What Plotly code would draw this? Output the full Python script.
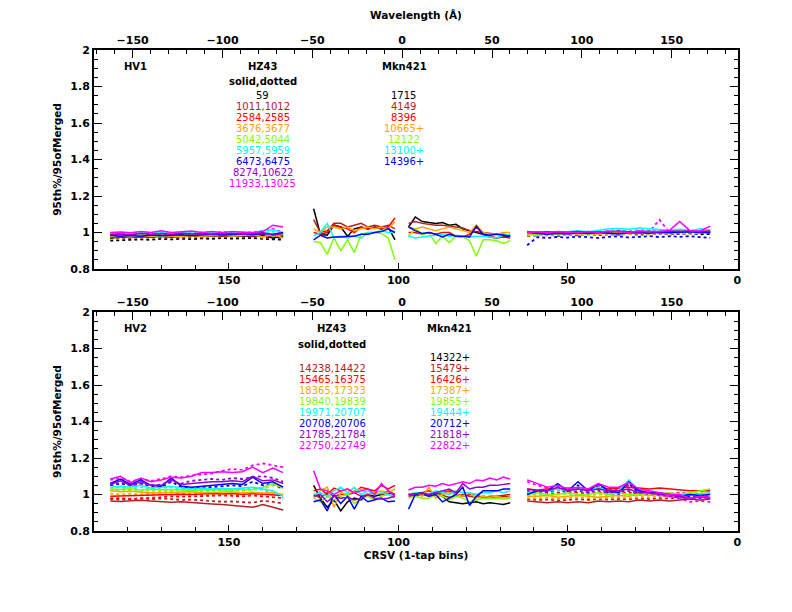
import plotly.graph_objects as go

# CRSV bin positions of the four detector segments
s1_bins = [185, 182, 179, 176, 173, 170, 167, 164, 161, 158, 155, 152, 149, 146, 143, 140, 137, 134]
s2_bins = [125, 123, 121, 119, 117, 115, 113, 111, 109, 107, 105, 103, 101]
s3_bins = [97, 95, 93, 91, 89, 87, 85, 83, 81, 79, 77, 75, 73, 71, 69, 67]
s4_bins = [62, 59, 56, 53, 50, 47, 44, 41, 38, 35, 32, 29, 26, 23, 20, 17, 14, 11, 8]

# black, brown, red, orange, green, cyan, blue, purple, magenta
colors = ['#000000', '#b22222', '#ff0000', '#ffa500', '#7fff00', '#00ffff', '#0000ff', '#9400d3', '#ff00ff']

# ---- top panel (HV1) ----
# HZ43, segment 1 : rows black..magenta
top_s1_solid = [
    [0.97, 0.975, 0.972, 0.978, 0.975, 0.98, 0.976, 0.978, 0.982, 0.978, 0.98, 0.984, 0.98, 0.982, 0.978, 0.985, 0.97, 0.98],
    [0.975, 0.978, 0.98, 0.976, 0.98, 0.982, 0.978, 0.984, 0.98, 0.982, 0.985, 0.98, 0.984, 0.986, 0.98, 0.99, 0.975, 0.985],
    [0.98, 0.982, 0.985, 0.98, 0.986, 0.983, 0.988, 0.984, 0.986, 0.99, 0.985, 0.988, 0.99, 0.986, 0.99, 0.995, 0.98, 0.99],
    [0.978, 0.98, 0.976, 0.982, 0.98, 0.984, 0.98, 0.978, 0.984, 0.98, 0.982, 0.986, 0.98, 0.984, 0.988, 0.975, 0.99, 0.97],
    [0.982, 0.985, 0.98, 0.988, 0.984, 0.98, 0.986, 0.99, 0.984, 0.988, 0.985, 0.99, 0.986, 0.99, 0.985, 1.0, 0.98, 0.99],
    [0.995, 1.0, 0.996, 1.002, 0.998, 1.0, 0.995, 1.0, 1.004, 0.998, 1.0, 0.996, 1.0, 1.004, 0.998, 1.01, 1.015, 1.0],
    [0.985, 0.98, 0.984, 0.98, 0.986, 0.982, 0.985, 0.988, 0.984, 0.986, 0.99, 0.986, 0.988, 0.992, 0.988, 0.995, 0.99, 1.0],
    [0.99, 0.992, 0.988, 0.995, 0.99, 0.994, 0.99, 0.996, 0.992, 0.995, 0.99, 0.996, 0.994, 0.99, 0.995, 1.0, 0.985, 0.995],
    [1.0, 1.003, 0.998, 1.005, 1.0, 1.01, 1.0, 1.004, 1.008, 1.0, 1.005, 1.0, 1.006, 1.002, 1.0, 1.005, 1.04, 1.03],
]
top_s1_dotted = [
    [0.955, 0.958, 0.96, 0.962, 0.96, 0.965, 0.962, 0.966, 0.963, 0.968, 0.965, 0.97, 0.966, 0.968, 0.97, 0.965, 0.962, 0.96],
    [0.968, 0.97, 0.972, 0.97, 0.974, 0.972, 0.975, 0.972, 0.976, 0.974, 0.978, 0.975, 0.978, 0.976, 0.98, 0.975, 0.97, 0.972],
    [0.972, 0.975, 0.974, 0.978, 0.976, 0.98, 0.976, 0.98, 0.978, 0.982, 0.98, 0.982, 0.985, 0.98, 0.984, 0.98, 0.975, 0.978],
    [0.97, 0.972, 0.975, 0.972, 0.976, 0.978, 0.975, 0.978, 0.98, 0.976, 0.98, 0.978, 0.982, 0.98, 0.984, 0.97, 0.985, 0.968],
    [0.976, 0.978, 0.98, 0.978, 0.982, 0.98, 0.984, 0.982, 0.986, 0.984, 0.986, 0.988, 0.985, 0.988, 0.99, 0.995, 0.975, 0.98],
    [0.985, 0.988, 0.99, 0.986, 0.99, 0.992, 0.99, 0.994, 0.99, 0.992, 0.995, 0.99, 0.994, 0.996, 0.992, 1.0, 1.005, 0.99],
    [0.975, 0.978, 0.976, 0.98, 0.978, 0.982, 0.98, 0.984, 0.98, 0.984, 0.982, 0.986, 0.984, 0.986, 0.99, 0.98, 0.97, 0.975],
    [0.98, 0.984, 0.982, 0.986, 0.984, 0.988, 0.985, 0.99, 0.986, 0.99, 0.988, 0.992, 0.99, 0.988, 0.992, 0.995, 0.98, 0.985],
    [0.99, 0.994, 0.992, 0.996, 0.994, 0.998, 0.995, 1.0, 0.996, 1.0, 0.998, 1.002, 1.0, 0.998, 1.0, 1.01, 1.02, 1.0],
]
# Mkn421, segments 2 and 3 : rows black..blue
top_s2 = [
    [1.13, 0.99, 0.985, 1.04, 1.03, 0.98, 1.02, 1.03, 1.02, 1.03, 1.02, 1.03, 0.96],
    [1.07, 1.0, 1.01, 1.05, 1.05, 1.03, 1.04, 1.05, 1.03, 1.04, 1.03, 1.04, 1.02],
    [1.0, 0.99, 1.0, 1.04, 1.03, 1.02, 1.0, 1.03, 1.02, 1.03, 1.02, 1.03, 1.08],
    [1.02, 1.0, 1.03, 1.03, 1.02, 1.03, 1.01, 1.02, 1.03, 1.02, 1.03, 1.02, 1.06],
    [0.95, 0.945, 0.88, 0.97, 0.90, 0.96, 0.89, 0.99, 1.0, 1.0, 0.995, 0.97, 0.85],
    [0.98, 1.0, 1.05, 0.97, 0.98, 0.97, 0.98, 0.97, 1.0, 1.0, 1.01, 1.0, 1.0],
    [0.96, 0.985, 0.97, 0.975, 0.975, 0.98, 0.98, 0.99, 0.99, 1.0, 1.005, 1.02, 1.0],
]
top_s3 = [
    [1.03, 1.085, 1.06, 1.055, 1.05, 1.055, 1.04, 1.045, 1.02, 1.01, 1.0, 0.99, 0.975, 0.97, 0.98, 0.98],
    [1.05, 1.06, 1.05, 1.045, 1.04, 1.04, 1.035, 1.03, 1.025, 1.01, 1.005, 1.0, 0.995, 0.99, 0.99, 0.985],
    [1.0, 1.0, 0.99, 1.0, 0.99, 1.0, 1.0, 0.98, 0.975, 0.99, 1.03, 0.99, 0.98, 0.97, 0.975, 0.97],
    [1.03, 1.02, 1.03, 1.02, 1.01, 1.02, 1.03, 1.02, 1.01, 1.0, 1.04, 1.0, 0.99, 0.99, 1.0, 1.0],
    [0.98, 1.02, 0.99, 1.0, 0.94, 0.98, 0.945, 0.98, 0.975, 0.955, 0.87, 0.96, 0.96, 0.955, 0.94, 0.955],
    [0.98, 0.97, 0.975, 0.98, 0.985, 0.99, 0.98, 0.985, 0.98, 0.975, 0.98, 0.98, 0.975, 0.97, 0.985, 0.99],
    [1.03, 1.01, 0.995, 1.0, 0.99, 0.975, 0.99, 0.98, 0.98, 0.975, 1.035, 0.99, 0.985, 0.99, 0.985, 0.98],
]
# HZ43, segment 4 : rows black..magenta
top_s4_solid = [
    [0.99, 0.995, 1.0, 0.99, 1.0, 0.995, 1.0, 1.002, 0.995, 1.0, 1.004, 0.996, 1.005, 1.0, 1.002, 1.0, 1.005, 1.0, 1.002],
    [0.995, 1.0, 0.996, 1.002, 0.998, 1.0, 1.004, 0.998, 1.002, 1.0, 0.998, 1.004, 1.0, 1.005, 1.0, 1.004, 1.0, 1.006, 1.0],
    [1.0, 0.995, 1.002, 0.998, 1.004, 1.0, 0.996, 1.002, 1.0, 1.005, 1.0, 1.002, 1.006, 1.0, 1.004, 1.008, 1.0, 1.005, 1.01],
    [0.99, 0.985, 0.995, 0.99, 0.996, 0.992, 0.995, 0.99, 0.998, 0.995, 1.0, 0.996, 1.0, 0.998, 1.002, 1.0, 1.004, 1.0, 1.005],
    [0.995, 0.99, 0.998, 0.992, 1.0, 0.996, 0.99, 0.998, 1.0, 0.995, 1.0, 1.002, 0.998, 1.004, 1.0, 1.005, 1.002, 1.0, 1.01],
    [1.0, 1.002, 1.005, 1.0, 1.006, 1.01, 1.004, 1.012, 1.02, 1.022, 1.018, 1.025, 1.02, 1.015, 1.012, 1.018, 1.01, 1.02, 1.015],
    [1.0, 0.995, 0.99, 0.996, 0.992, 0.998, 0.994, 1.0, 0.996, 0.992, 0.998, 1.0, 0.996, 1.002, 0.998, 1.0, 1.004, 1.0, 1.0],
    [1.005, 1.0, 1.004, 0.998, 1.002, 1.006, 1.0, 1.004, 1.002, 1.008, 1.004, 1.0, 1.006, 1.004, 1.008, 1.005, 1.01, 1.004, 1.008],
    [1.0, 1.004, 1.0, 1.006, 1.002, 1.0, 1.005, 1.002, 1.008, 1.004, 1.0, 1.01, 1.005, 1.006, 1.012, 1.06, 1.01, 1.008, 1.035],
]
top_s4_dotted = [
    [0.98, 0.985, 0.99, 0.982, 0.988, 0.985, 0.99, 0.986, 0.99, 0.988, 0.992, 0.988, 0.99, 0.994, 0.99, 0.992, 0.995, 0.99, 0.992],
    [0.988, 0.99, 0.985, 0.992, 0.99, 0.994, 0.99, 0.992, 0.996, 0.99, 0.994, 0.998, 0.992, 0.996, 1.0, 0.995, 0.998, 1.0, 0.996],
    [0.99, 0.994, 0.99, 0.996, 0.992, 0.998, 0.995, 0.992, 0.998, 1.0, 0.996, 1.0, 0.998, 1.002, 0.998, 1.0, 1.004, 1.0, 1.002],
    [0.982, 0.986, 0.984, 0.988, 0.985, 0.99, 0.986, 0.99, 0.988, 0.992, 0.99, 0.994, 0.99, 0.995, 0.992, 0.996, 0.994, 0.998, 1.0],
    [0.99, 0.986, 0.992, 0.988, 0.994, 0.99, 0.986, 0.994, 0.996, 0.99, 0.996, 0.998, 0.994, 1.0, 0.996, 1.0, 0.998, 0.996, 1.005],
    [0.995, 0.998, 1.0, 0.996, 1.002, 1.004, 1.0, 1.006, 1.01, 1.012, 1.01, 1.015, 1.012, 1.008, 1.006, 1.01, 1.004, 1.01, 1.008],
    [0.93, 0.975, 0.97, 0.976, 0.972, 0.978, 0.974, 0.97, 0.976, 0.98, 0.972, 0.976, 0.98, 0.975, 0.98, 0.976, 0.98, 0.975, 0.97],
    [0.998, 0.995, 1.0, 0.996, 0.998, 1.002, 0.996, 1.0, 0.998, 1.004, 1.0, 0.996, 1.002, 1.0, 1.004, 1.0, 1.006, 1.0, 1.004],
    [0.995, 1.0, 0.998, 0.995, 1.0, 1.002, 0.996, 1.0, 1.002, 0.998, 1.004, 1.0, 1.002, 1.07, 1.0, 1.005, 1.0, 1.004, 1.01],
]

# ---- bottom panel (HV2) ----
# HZ43 rows brown..magenta
bot_s1_solid = [
    [0.965, 0.962, 0.966, 0.968, 0.965, 0.962, 0.958, 0.96, 0.955, 0.95, 0.948, 0.945, 0.94, 0.935, 0.93, 0.945, 0.93, 0.915],
    [0.99, 0.992, 0.995, 0.997, 0.998, 1.0, 1.0, 1.002, 1.0, 1.003, 1.005, 1.003, 1.005, 1.0, 1.005, 1.002, 1.0, 0.995],
    [1.02, 1.015, 1.018, 1.012, 1.01, 1.01, 1.012, 1.01, 1.015, 1.01, 1.012, 1.01, 1.015, 1.01, 1.012, 1.008, 1.01, 1.0],
    [1.03, 1.028, 1.032, 1.025, 1.03, 1.026, 1.028, 1.025, 1.022, 1.025, 1.028, 1.024, 1.026, 1.03, 1.028, 1.04, 1.06, 1.035],
    [1.04, 1.045, 1.04, 1.05, 1.035, 1.04, 1.045, 1.035, 1.03, 1.035, 1.03, 1.034, 1.03, 1.035, 1.04, 1.03, 1.02, 0.99],
    [1.06, 1.085, 1.055, 1.08, 1.05, 1.045, 1.09, 1.045, 1.04, 1.045, 1.05, 1.055, 1.06, 1.055, 1.095, 1.06, 1.07, 1.04],
    [1.055, 1.075, 1.05, 1.07, 1.05, 1.05, 1.08, 1.055, 1.06, 1.065, 1.07, 1.07, 1.075, 1.07, 1.1, 1.075, 1.08, 1.06],
    [1.085, 1.1, 1.065, 1.09, 1.07, 1.08, 1.095, 1.09, 1.1, 1.12, 1.12, 1.125, 1.12, 1.125, 1.15, 1.12, 1.145, 1.12],
]
bot_s1_dotted = [
    [0.975, 0.972, 0.975, 0.978, 0.975, 0.978, 0.975, 0.97, 0.972, 0.968, 0.965, 0.96, 0.962, 0.958, 0.955, 0.965, 0.96, 0.95],
    [0.978, 0.98, 0.975, 0.98, 0.982, 0.985, 0.99, 0.988, 0.99, 0.992, 0.99, 0.995, 0.993, 0.99, 0.995, 0.99, 0.985, 0.98],
    [1.005, 1.0, 1.004, 1.0, 1.005, 1.002, 1.0, 1.004, 1.006, 1.002, 1.005, 1.0, 1.004, 1.002, 1.0, 1.01, 1.005, 1.0],
    [1.025, 1.02, 1.024, 1.02, 1.022, 1.018, 1.02, 1.022, 1.018, 1.02, 1.022, 1.02, 1.024, 1.022, 1.025, 1.03, 1.05, 1.03],
    [1.035, 1.04, 1.03, 1.04, 1.03, 1.035, 1.04, 1.03, 1.028, 1.03, 1.025, 1.03, 1.028, 1.03, 1.035, 1.025, 1.01, 0.98],
    [1.05, 1.06, 1.05, 1.06, 1.045, 1.04, 1.07, 1.04, 1.035, 1.04, 1.04, 1.045, 1.05, 1.045, 1.07, 1.05, 1.06, 1.03],
    [1.05, 1.065, 1.05, 1.06, 1.05, 1.055, 1.07, 1.06, 1.075, 1.08, 1.085, 1.08, 1.09, 1.085, 1.095, 1.1, 1.09, 1.07],
    [1.08, 1.09, 1.07, 1.085, 1.075, 1.085, 1.1, 1.095, 1.105, 1.11, 1.115, 1.13, 1.14, 1.135, 1.16, 1.17, 1.16, 1.15],
]
# Mkn421 rows black..magenta
bot_s2 = [
    [1.05, 0.98, 0.93, 0.97, 0.91, 0.96, 0.98, 0.97, 1.0, 0.99, 1.0, 1.01, 1.0],
    [1.0, 0.98, 1.01, 0.99, 1.0, 1.0, 1.01, 0.99, 1.0, 1.01, 1.0, 1.02, 1.0],
    [1.02, 1.03, 1.0, 1.035, 1.02, 1.03, 1.01, 1.04, 1.03, 1.02, 1.05, 1.03, 1.05],
    [0.98, 1.02, 1.04, 0.93, 1.01, 1.0, 1.02, 1.03, 1.0, 1.01, 1.02, 1.01, 1.03],
    [0.98, 0.96, 0.99, 0.97, 0.99, 1.0, 0.95, 0.98, 0.99, 0.97, 0.99, 1.0, 0.98],
    [1.0, 1.01, 0.99, 1.02, 1.04, 1.01, 1.04, 1.0, 1.02, 1.0, 1.01, 1.0, 0.99],
    [0.96, 0.97, 0.91, 1.0, 0.95, 0.99, 0.92, 0.99, 0.96, 0.97, 0.98, 0.96, 0.965],
    [0.99, 1.0, 0.96, 0.99, 0.98, 0.985, 0.97, 0.98, 1.0, 0.98, 0.975, 0.98, 0.99],
    [1.13, 1.03, 1.02, 1.0, 1.02, 1.03, 1.01, 1.02, 1.03, 1.0, 1.06, 1.02, 0.99],
]
bot_s3 = [
    [1.0, 0.99, 1.0, 1.0, 1.01, 0.99, 0.96, 0.955, 0.95, 0.955, 0.96, 0.95, 0.955, 0.95, 0.945, 0.955],
    [0.99, 0.995, 1.0, 0.99, 1.0, 0.995, 0.985, 0.99, 1.0, 0.99, 0.985, 0.99, 0.985, 0.98, 0.99, 0.985],
    [1.0, 1.0, 1.01, 1.02, 1.0, 1.01, 1.02, 1.0, 0.99, 1.0, 1.0, 0.98, 0.99, 0.99, 0.995, 1.0],
    [1.0, 1.01, 0.99, 1.04, 0.98, 1.0, 1.01, 1.0, 0.99, 1.01, 0.98, 0.99, 0.985, 0.99, 0.98, 0.985],
    [0.98, 0.99, 0.98, 0.98, 1.0, 0.99, 0.97, 0.99, 0.98, 0.96, 0.97, 0.98, 0.975, 0.98, 0.975, 0.98],
    [1.0, 1.01, 1.01, 1.0, 1.02, 1.01, 1.0, 1.02, 1.01, 1.01, 1.0, 1.01, 1.01, 1.02, 1.01, 1.02],
    [0.92, 1.0, 1.01, 0.99, 1.0, 0.96, 0.98, 1.0, 1.04, 0.94, 0.99, 1.02, 1.02, 1.02, 1.03, 1.03],
    [1.0, 1.005, 1.01, 1.0, 1.01, 1.02, 1.03, 1.01, 1.06, 1.03, 1.04, 1.04, 1.05, 1.05, 1.055, 1.06],
    [1.025, 1.04, 1.04, 1.05, 1.045, 1.06, 1.05, 1.06, 1.07, 1.06, 1.08, 1.075, 1.09, 1.08, 1.095, 1.085],
]
bot_s4_solid = [
    [0.965, 0.96, 0.955, 0.96, 0.955, 0.96, 0.955, 0.965, 0.96, 0.965, 0.96, 0.97, 0.965, 0.97, 0.965, 0.97, 0.975, 0.97, 0.975],
    [1.03, 1.025, 1.03, 1.03, 1.035, 1.03, 1.03, 1.035, 1.03, 1.035, 1.04, 1.035, 1.03, 1.035, 1.03, 1.025, 1.02, 1.02, 1.02],
    [0.99, 0.99, 0.995, 0.985, 0.99, 0.995, 0.99, 0.985, 0.99, 0.995, 0.99, 1.0, 0.995, 1.0, 1.0, 0.995, 1.0, 1.005, 1.01],
    [1.0, 1.01, 1.0, 1.0, 1.01, 1.0, 1.0, 1.01, 1.0, 1.01, 1.0, 1.0, 1.01, 1.0, 1.01, 1.0, 1.01, 1.02, 1.03],
    [1.01, 1.02, 1.02, 1.03, 1.02, 1.04, 1.02, 1.04, 1.02, 1.02, 1.08, 1.02, 1.01, 1.01, 1.0, 1.0, 1.0, 1.0, 1.01],
    [1.0, 1.02, 1.02, 1.06, 1.02, 1.07, 1.02, 1.06, 1.02, 1.01, 1.07, 1.02, 1.01, 1.01, 1.0, 0.99, 1.0, 0.995, 1.0],
    [1.03, 1.02, 1.02, 1.04, 1.02, 1.03, 1.02, 1.03, 1.02, 1.02, 1.03, 1.01, 1.01, 1.0, 1.0, 0.99, 0.98, 0.99, 0.98],
    [1.08, 1.06, 1.04, 1.05, 1.03, 1.04, 1.03, 1.06, 1.04, 1.04, 1.065, 1.03, 1.02, 1.01, 1.0, 1.0, 0.98, 0.99, 0.985],
]
bot_s4_dotted = [
    [0.975, 0.97, 0.972, 0.968, 0.97, 0.974, 0.97, 0.975, 0.972, 0.976, 0.974, 0.978, 0.975, 0.98, 0.978, 0.982, 0.98, 0.985, 0.982],
    [1.0, 1.005, 1.0, 1.01, 1.005, 1.01, 1.005, 1.01, 1.008, 1.012, 1.01, 1.008, 1.012, 1.01, 1.005, 1.008, 1.004, 1.0, 1.005],
    [0.98, 0.978, 0.982, 0.976, 0.98, 0.984, 0.98, 0.978, 0.982, 0.985, 0.98, 0.986, 0.984, 0.99, 0.986, 0.99, 0.992, 0.995, 1.0],
    [0.995, 1.0, 0.995, 0.998, 1.004, 0.998, 0.995, 1.0, 0.998, 1.004, 0.996, 1.0, 1.004, 0.998, 1.002, 1.0, 1.006, 1.012, 1.02],
    [1.005, 1.012, 1.01, 1.02, 1.012, 1.03, 1.012, 1.03, 1.012, 1.015, 1.06, 1.012, 1.005, 1.004, 1.0, 0.998, 0.996, 0.998, 1.0],
    [1.01, 1.02, 1.01, 1.04, 1.015, 1.05, 1.01, 1.05, 1.01, 1.0, 1.06, 1.01, 1.0, 1.0, 0.995, 0.99, 0.99, 0.985, 0.99],
    [1.02, 1.015, 1.012, 1.03, 1.01, 1.02, 1.012, 1.02, 1.01, 1.012, 1.02, 1.0, 1.0, 0.995, 0.99, 0.985, 0.975, 0.98, 0.97],
    [1.07, 1.05, 1.035, 1.04, 1.03, 1.035, 1.03, 1.05, 1.03, 1.03, 1.05, 1.02, 1.01, 1.0, 0.99, 0.98, 0.96, 0.965, 0.96],
]

# label texts
top_hz43_labels = ['59', '1011,1012', '2584,2585', '3676,3677', '5042,5044', '5957,5959', '6473,6475', '8274,10622', '11933,13025']
top_mkn_labels = ['1715', '4149', '8396', '10665+', '12122', '13100+', '14396+']
bot_hz43_labels = ['14238,14422', '15465,16375', '18365,17323', '19840,19839', '19971,20707', '20708,20706', '21785,21784', '22750,22749']
bot_mkn_labels = ['14322+', '15479+', '16426+', '17387+', '19855+', '19444+', '20712+', '21818+', '22822+']

fig = go.Figure()


def add_lines(bins, rows, cols, dash, xa, ya):
    for vals, c in zip(rows, cols):
        if dash == 'solid':
            line = dict(color=c, width=1.5)
        else:
            line = dict(color=c, width=1.8, dash='dot')
        fig.add_trace(go.Scatter(x=bins, y=vals, mode='lines', line=line,
                                 xaxis=xa, yaxis=ya, hoverinfo='skip'))


# top panel
add_lines(s1_bins, top_s1_dotted, colors, 'dot', 'x', 'y')
add_lines(s1_bins, top_s1_solid, colors, 'solid', 'x', 'y')
add_lines(s2_bins, top_s2, colors[:7], 'solid', 'x', 'y')
add_lines(s3_bins, top_s3, colors[:7], 'solid', 'x', 'y')
add_lines(s4_bins, top_s4_dotted, colors, 'dot', 'x', 'y')
add_lines(s4_bins, top_s4_solid, colors, 'solid', 'x', 'y')

# bottom panel
add_lines(s1_bins, bot_s1_dotted, colors[1:], 'dot', 'x3', 'y2')
add_lines(s1_bins, bot_s1_solid, colors[1:], 'solid', 'x3', 'y2')
add_lines(s2_bins, bot_s2, colors, 'solid', 'x3', 'y2')
add_lines(s3_bins, bot_s3, colors, 'solid', 'x3', 'y2')
add_lines(s4_bins, bot_s4_dotted, colors[1:], 'dot', 'x3', 'y2')
add_lines(s4_bins, bot_s4_solid, colors[1:], 'solid', 'x3', 'y2')

FONT = 'DejaVu Sans'
ann = []


def label(text, x, y, xref, yref, color='black', bold=True):
    ann.append(dict(text=text, x=x, y=y, xref=xref, yref=yref, showarrow=False,
                    xanchor='center', yanchor='middle', borderpad=0,
                    font=dict(family=FONT, size=10, color=color,
                              weight='bold' if bold else 'normal')))


row0, drow = 1.752, 0.0605

# top panel labels (x in wavelength units)
label('HV1', -148.5, 1.907, 'x2', 'y')
label('HZ43', -77.5, 1.907, 'x2', 'y')
label('Mkn421', 1.5, 1.907, 'x2', 'y')
label('solid,dotted', -77.5, 1.826, 'x2', 'y')
for k, t in enumerate(top_hz43_labels):
    label(t, -77.5, row0 - drow * k, 'x2', 'y', colors[k], False)
for k, t in enumerate(top_mkn_labels):
    label(t, 1.0, row0 - drow * k, 'x2', 'y', colors[k], False)

# bottom panel labels
label('HV2', -148.5, 1.912, 'x4', 'y2')
label('HZ43', -39.0, 1.912, 'x4', 'y2')
label('Mkn421', 26.6, 1.912, 'x4', 'y2')
label('solid,dotted', -39.0, 1.823, 'x4', 'y2')
for k, t in enumerate(bot_hz43_labels):
    label(t, -39.0, row0 - drow * (k + 1), 'x4', 'y2', colors[k + 1], False)
for k, t in enumerate(bot_mkn_labels):
    label(t, 26.6, row0 - drow * k, 'x4', 'y2', colors[k], False)

tickfont = dict(family=FONT, size=11, color='black', weight='bold')
titlefont = dict(family=FONT, size=10.5, color='black', weight='bold')

crsv_axis = dict(range=[189.8, -0.2], tick0=0, dtick=50, ticks='inside', ticklen=6,
                 tickwidth=1.3, tickcolor='black', showline=True, linewidth=2,
                 linecolor='black', showgrid=False, zeroline=False, tickfont=tickfont,
                 minor=dict(dtick=10, tick0=0, ticks='inside', ticklen=4, tickwidth=1.3,
                            tickcolor='black', showgrid=False),
                 automargin=False)
wave_axis = dict(range=[-171.5, 186.9], tick0=0, dtick=50, side='top', ticks='inside',
                 ticklen=8, tickwidth=1.3, tickcolor='black', showline=True, linewidth=2,
                 linecolor='black', showgrid=False, zeroline=False, tickfont=tickfont,
                 minor=dict(dtick=10, tick0=0, ticks='inside', ticklen=4, tickwidth=1.3,
                            tickcolor='black', showgrid=False),
                 automargin=False)
ratio_axis = dict(range=[0.8, 2.0], tick0=0.8, dtick=0.2, ticks='inside', ticklen=8,
                  tickwidth=1.3, tickcolor='black', showline=True, linewidth=2,
                  linecolor='black', mirror='ticks', showgrid=False, zeroline=False,
                  tickfont=tickfont,
                  minor=dict(dtick=0.05, tick0=0.8, ticks='inside', ticklen=4, tickwidth=1.3,
                             tickcolor='black', showgrid=False),
                  title=dict(text='95th%/95ofMerged', font=titlefont, standoff=7),
                  automargin=False)

# the page body adds an 8px margin, so the figure is 16px smaller than the window
fig.update_layout(
    width=776, height=596,
    template='none',
    showlegend=False,
    paper_bgcolor='white', plot_bgcolor='white',
    margin=dict(l=86, r=46, t=42, b=73),
    font=dict(family=FONT, size=11, color='black'),
    xaxis=dict(crsv_axis, anchor='y', domain=[0, 1]),
    xaxis2=dict(wave_axis, anchor='y', overlaying='x',
                title=dict(text='Wavelength (Å)', font=titlefont, standoff=12)),
    xaxis3=dict(crsv_axis, anchor='y2', domain=[0, 1],
                title=dict(text='CRSV (1-tap bins)', font=titlefont, standoff=0)),
    xaxis4=dict(wave_axis, anchor='y2', overlaying='x3'),
    yaxis=dict(ratio_axis, domain=[0.5447, 1.0], anchor='x'),
    yaxis2=dict(ratio_axis, domain=[0.0, 0.4553], anchor='x3'),
    annotations=ann,
)

fig.write_html("out.html")
